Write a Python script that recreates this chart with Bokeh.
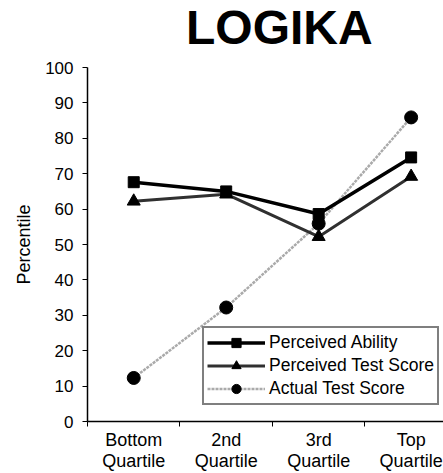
from bokeh.plotting import figure
from bokeh.layouts import column
from bokeh.models import (Div, FixedTicker, Legend, LegendItem, Range1d)
from bokeh.embed import file_html
from bokeh.resources import INLINE

# ---- data ----
categories = ["Bottom\nQuartile", "2nd\nQuartile", "3rd\nQuartile", "Top\nQuartile"]
perceived_ability = [67.6, 65.0, 58.6, 74.6]
perceived_test_score = [62.2, 64.2, 52.2, 69.2]
actual_test_score = [12.3, 32.2, 55.9, 85.9]
y_ticks = [0, 10, 20, 30, 40, 50, 60, 70, 80, 90, 100]
title_text = "LOGIKA"

FONT = "Liberation Sans"
xpos = [i + 0.5 for i in range(len(categories))]

TITLE_H = 56
title = Div(
    text=('<div style="font-family:\'Liberation Sans\';font-size:48px;'
          'font-weight:bold;line-height:56px;color:black;'
          'padding-left:186px;white-space:nowrap;">' + title_text + '</div>'),
    width=443, height=TITLE_H, margin=(0, 0, 0, 0))

p = figure(width=443, height=473 - TITLE_H, output_backend="svg",
           toolbar_location=None,
           x_range=Range1d(0, 3.85), y_range=Range1d(0, 100),
           min_border_left=87, min_border_right=0, min_border_top=67 - TITLE_H,
           min_border_bottom=50, margin=(0, 0, 0, 0))
p.outline_line_color = None
p.xgrid.grid_line_color = None
p.ygrid.grid_line_color = None
p.background_fill_color = "white"
p.border_fill_color = "white"

# x axis: labels centred under categories, tick marks at boundaries
p.xaxis.ticker = FixedTicker(ticks=xpos, minor_ticks=[0, 1, 2, 3])
p.xaxis.major_label_overrides = {x: c for x, c in zip(xpos, categories)}
p.xaxis.major_tick_in = 0
p.xaxis.major_tick_out = 0
p.xaxis.minor_tick_in = 0
p.xaxis.minor_tick_out = 5
p.xaxis.minor_tick_line_color = "black"
p.xaxis.axis_line_color = "black"
p.xaxis.axis_line_width = 1.5
p.xaxis.major_label_text_font = FONT
p.xaxis.major_label_text_font_size = "18px"
p.xaxis.major_label_text_line_height = 1.05
p.xaxis.major_label_text_color = "black"
p.xaxis.major_label_standoff = 3

# y axis
p.yaxis.ticker = FixedTicker(ticks=y_ticks)
p.yaxis.minor_tick_line_color = None
p.yaxis.major_tick_in = 0
p.yaxis.major_tick_out = 5
p.yaxis.major_tick_line_color = "black"
p.yaxis.axis_line_color = "black"
p.yaxis.axis_line_width = 1.5
p.yaxis.major_label_text_font = FONT
p.yaxis.major_label_text_font_size = "17px"
p.yaxis.major_label_text_color = "black"
p.yaxis.major_label_standoff = 9
p.yaxis.axis_label = "Percentile"
p.yaxis.axis_label_text_font = FONT
p.yaxis.axis_label_text_font_size = "18px"
p.yaxis.axis_label_text_font_style = "normal"
p.yaxis.axis_label_text_color = "black"
p.yaxis.axis_label_standoff = 8

# series
l_act = p.line(xpos, actual_test_score, line_color="#aaaaaa", line_width=2.5,
               line_dash="3 1")
m_act = p.scatter(xpos, actual_test_score, marker="circle", size=13,
                  fill_color="black", line_color="black")
l_pts = p.line(xpos, perceived_test_score, line_color="#303030", line_width=3)
m_pts = p.scatter(xpos, perceived_test_score, marker="triangle", size=13,
                  fill_color="black", line_color="black")
l_pa = p.line(xpos, perceived_ability, line_color="black", line_width=3.5)
m_pa = p.scatter(xpos, perceived_ability, marker="square", size=11,
                 fill_color="black", line_color="black")

legend = Legend(items=[
    LegendItem(label="Perceived Ability", renderers=[l_pa, m_pa]),
    LegendItem(label="Perceived Test Score", renderers=[l_pts, m_pts]),
    LegendItem(label="Actual Test Score", renderers=[l_act, m_act]),
], location=(115, 16))
legend.label_text_font = FONT
legend.label_text_font_size = "17.5px"
legend.label_text_color = "black"
legend.glyph_width = 58
legend.glyph_height = 23
legend.label_height = 23
legend.label_standoff = 4
legend.spacing = 0
legend.padding = 3
legend.margin = 0
legend.border_line_color = "black"
legend.border_line_width = 2
legend.background_fill_color = "white"
legend.background_fill_alpha = 1
p.add_layout(legend, "center")

layout = column(title, p, spacing=0)
open("out.html", "w").write(file_html(layout, INLINE))
